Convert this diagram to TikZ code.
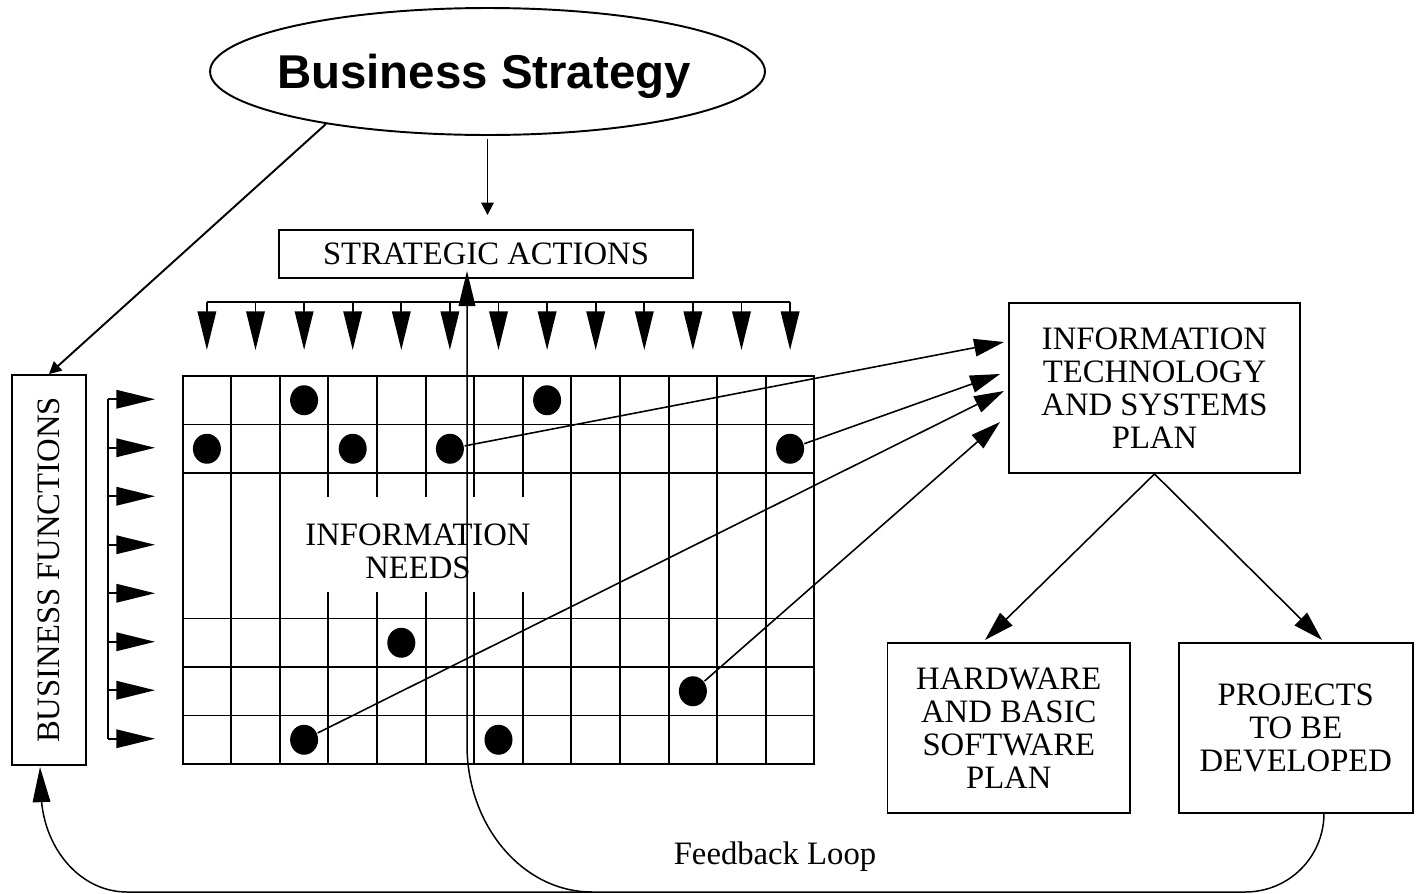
\documentclass[tikz,border=0pt]{standalone}
\usepackage{fontspec}
\setmainfont{Liberation Serif}
\newfontfamily\arialfont{Liberation Sans}
\usetikzlibrary{arrows.meta,shapes.geometric}
\tikzset{
  box/.style={draw,align=center,inner sep=0pt},
  blob/.style={ellipse,fill,inner sep=0pt,minimum width=0.56cm,minimum height=0.6cm},
  big/.style={-{Triangle[length=22pt,width=10.5pt]}},
  mid/.style={-{Triangle[length=17pt,width=10pt]}},
  fbline/.style={line width=0.85pt},
}
\begin{document}
\begin{tikzpicture}[x=0.02cm,y=-0.02cm,line width=1.1pt,font=\fontsize{18.6}{18.7}\selectfont]
\pgfmathsetmacro{\gx}{182.6}
\pgfmathsetmacro{\gy}{376}
\pgfmathsetmacro{\cw}{48.6}
\pgfmathsetmacro{\rh}{48.5}
\useasboundingbox (0,0) rectangle (1417,893);
% boxes
\node[ellipse,draw,minimum width=11.1cm,minimum height=2.54cm,inner sep=0pt](bs) at (487.5,71.5){};
\node[font=\arialfont\bfseries\fontsize{27}{30}\selectfont](bst) at (484,76){Business Strategy};
\node[box,minimum width=8.28cm,minimum height=0.96cm](sa) at (486,254){STRATEGIC ACTIONS};
\node[box,rotate=90,minimum width=7.8cm,minimum height=1.48cm](bf) at (49,570){BUSINESS FUNCTIONS};
\node[box,minimum width=5.82cm,minimum height=3.4cm](itp) at (1154.5,388){INFORMATION\\TECHNOLOGY\\AND SYSTEMS\\PLAN};
\node[box,minimum width=4.85cm,minimum height=3.4cm](hw) at (1008.75,728){HARDWARE\\AND BASIC\\SOFTWARE\\PLAN};
\node[box,minimum width=4.69cm,minimum height=3.4cm](pr) at (1295.8,728){PROJECTS\\TO BE\\DEVELOPED};
\draw[-{Triangle[length=7pt,width=7pt]},shorten <=0.06cm,shorten >=0.28cm](bs.south)--(bs.south|-sa.north);
\draw[-{Triangle[length=7pt,width=7pt]}](bs.198)--(bf.east);
% grid
\draw(\gx,\gy) rectangle ++(13*\cw,8*\rh);
\foreach \r in {1,2,5,6,7} \draw(\gx,\gy+\r*\rh)--++(13*\cw,0);
\foreach \c in {1,2,8,9,10,11,12} \draw(\gx+\c*\cw,\gy)--++(0,8*\rh);
\foreach \c in {3,...,7} \draw(\gx+\c*\cw,\gy)--(\gx+\c*\cw,497) (\gx+\c*\cw,592)--(\gx+\c*\cw,\gy+8*\rh);
\node[align=center](need) at (418,551){INFORMATION\\NEEDS};
\draw(\gx+0.5*\cw,302)--(\gx+12.5*\cw,302);
\foreach \c in {0,...,12} \draw[big](\gx+\c*\cw+0.5*\cw,302)--++(0,48);
\draw(108,\gy+0.5*\rh-1)--(108,\gy+7.5*\rh-1);
\foreach \r in {0,...,7} \draw[big](108,\gy+\r*\rh+0.5*\rh-1)--(155,\gy+\r*\rh+0.5*\rh-1);
\foreach \n/\c/\r in {1/2/0,2/7/0,3/0/1,4/3/1,5/5/1,6/12/1,7/4/5,8/10/6,9/2/7,10/6/7}
  \node[blob](d\n) at (\gx+\c*\cw+0.5*\cw,\gy+\r*\rh+0.5*\rh){};
% to the plan
\coordinate(in1) at (1004,342);
\coordinate(in2) at (1000,374);
\coordinate(in3) at (1004,391);
\coordinate(in4) at (1000,422);
\draw[mid,line width=0.9pt](d5)--(in1);
\draw[mid,line width=0.9pt](d6)--(in2);
\draw[mid,line width=0.9pt](d9)--(in3);
\draw[mid,line width=0.9pt](d8)--(in4);
\coordinate(hwin) at (985,640);
\coordinate(prin) at (1322,640);
\draw[mid,line width=0.9pt](itp.south)--(hwin);
\draw[mid,line width=0.9pt](itp.south)--(prin);
% feedback
\coordinate(fb) at (1324,813);
\coordinate(jn) at (592,892);
\coordinate(sain) at (467,271);
\coordinate(fbl) at (40,767);
\draw[fbline](fb) .. controls (1324,857) and (1289,892) .. (1245,892)--(jn);
\draw[fbline,-{Triangle[length=20pt,width=9.5pt]}](jn) .. controls (523,892) and (467,826) .. (467,745)--(sain);
\draw[fbline,-{Triangle[length=20pt,width=10pt]}](jn)--(127,892) .. controls (79,892) and (41,846) .. (41,790)--(fbl);
\node(fbt) at (775,857){Feedback Loop};
\end{tikzpicture}
\end{document}
